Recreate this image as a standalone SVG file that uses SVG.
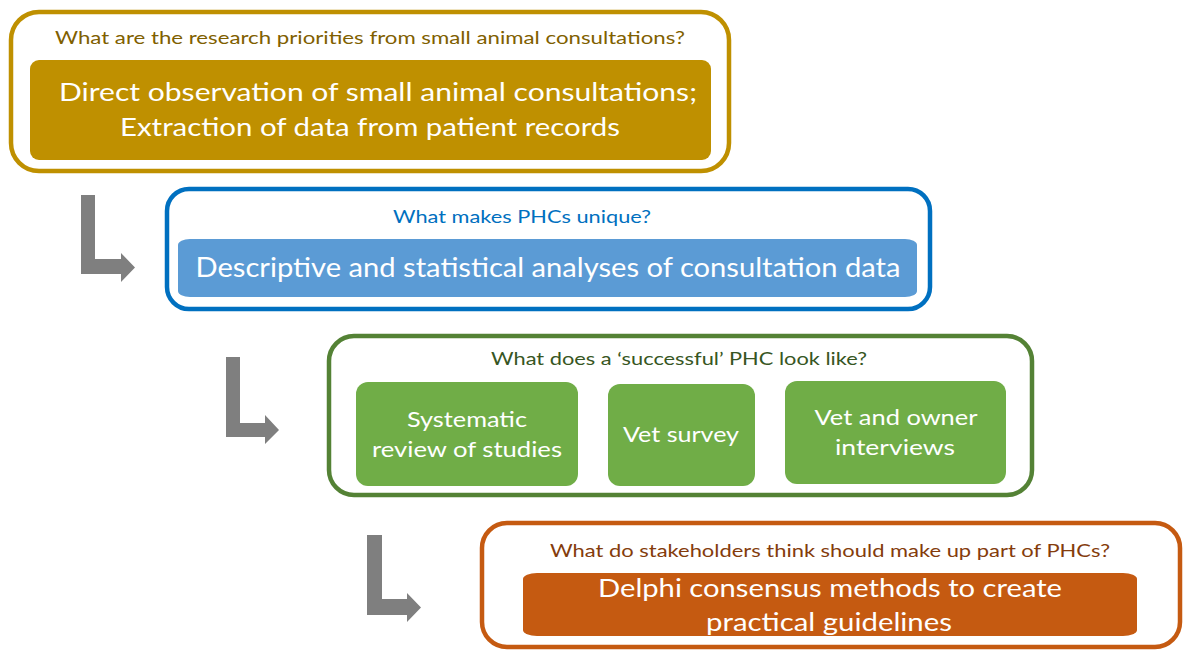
<svg xmlns="http://www.w3.org/2000/svg" width="1184" height="651" viewBox="0 0 1184 651">
  <style>
    .frame { fill: #ffffff; stroke-width: 4.5; }
    .q { font-family: Lato, "Open Sans", "Liberation Sans", sans-serif; font-size: 18px; text-anchor: middle; }
    .main { font-family: Lato, "Open Sans", "Liberation Sans", sans-serif; fill: #ffffff; text-anchor: middle; }
    .arrow { fill: #7f7f7f; }
  </style>
  <rect width="1184" height="651" fill="#ffffff"/>

  <!-- Step 1 -->
  <g id="step1">
    <rect class="frame" x="11" y="12" width="718" height="159" rx="28" stroke="#bf9000"/>
    <text class="q" x="370" y="44" fill="#7f6000" textLength="630" lengthAdjust="spacingAndGlyphs">What are the research priorities from small animal consultations?</text>
    <rect x="30" y="60" width="681" height="100" rx="9" fill="#bf9000"/>
    <text class="main" x="378" y="101" font-size="25" textLength="638" lengthAdjust="spacingAndGlyphs">Direct observation of small animal consultations;</text>
    <text class="main" x="370" y="136" font-size="25" textLength="500" lengthAdjust="spacingAndGlyphs">Extraction of data from patient records</text>
  </g>

  <!-- Step 2 -->
  <g id="step2">
    <rect class="frame" x="167" y="189" width="763" height="120" rx="22" stroke="#0070c0"/>
    <text class="q" x="522" y="223" fill="#0070c0" textLength="258" lengthAdjust="spacingAndGlyphs">What makes PHCs unique?</text>
    <rect x="178" y="239" width="739" height="58" rx="12" ry="6" fill="#5b9bd5"/>
    <text class="main" x="548" y="277" font-size="27" textLength="705" lengthAdjust="spacingAndGlyphs">Descriptive and statistical analyses of consultation data</text>
  </g>

  <!-- Step 3 -->
  <g id="step3">
    <rect class="frame" x="329" y="336" width="703" height="159" rx="25" stroke="#548235"/>
    <text class="q" x="679" y="365" fill="#375623" textLength="376" lengthAdjust="spacingAndGlyphs">What does a ‘successful’ PHC look like?</text>
    <g id="step3-review">
      <rect x="356" y="382" width="222" height="104" rx="12" fill="#70ad47"/>
      <text class="main" x="467" y="427" font-size="22" textLength="120" lengthAdjust="spacingAndGlyphs">Systematic</text>
      <text class="main" x="467" y="457" font-size="22" textLength="190" lengthAdjust="spacingAndGlyphs">review of studies</text>
    </g>
    <g id="step3-survey">
      <rect x="608" y="384" width="147" height="102" rx="12" fill="#70ad47"/>
      <text class="main" x="681" y="442" font-size="22" textLength="116" lengthAdjust="spacingAndGlyphs">Vet survey</text>
    </g>
    <g id="step3-interviews">
      <rect x="785" y="381" width="221" height="103" rx="12" fill="#70ad47"/>
      <text class="main" x="896" y="425" font-size="22" textLength="163" lengthAdjust="spacingAndGlyphs">Vet and owner</text>
      <text class="main" x="895" y="455" font-size="22" textLength="120" lengthAdjust="spacingAndGlyphs">interviews</text>
    </g>
  </g>

  <!-- Step 4 -->
  <g id="step4">
    <rect class="frame" x="482" y="523" width="698" height="124" rx="25" stroke="#c55a11"/>
    <text class="q" x="830" y="557" fill="#843c0c" textLength="560" lengthAdjust="spacingAndGlyphs">What do stakeholders think should make up part of PHCs?</text>
    <rect x="523" y="573" width="614" height="63" rx="14" ry="6" fill="#c55a11"/>
    <text class="main" x="830" y="597" font-size="25" textLength="464" lengthAdjust="spacingAndGlyphs">Delphi consensus methods to create</text>
    <text class="main" x="829" y="631" font-size="25" textLength="246" lengthAdjust="spacingAndGlyphs">practical guidelines</text>
  </g>

  <!-- Connectors: bent arrows between steps -->
  <g id="connectors">
    <path class="arrow" d="M81,195 H95 V259 H121 V253 L135,267.5 L121,282 V274 H81 Z"/>
    <path class="arrow" d="M226,357 H240 V423 H265 V415 L279,430 L265,444 V437 H226 Z"/>
    <path class="arrow" d="M367,535 H382 V599 H407 V593 L421,607.5 L407,622 V615 H367 Z"/>
  </g>
</svg>
